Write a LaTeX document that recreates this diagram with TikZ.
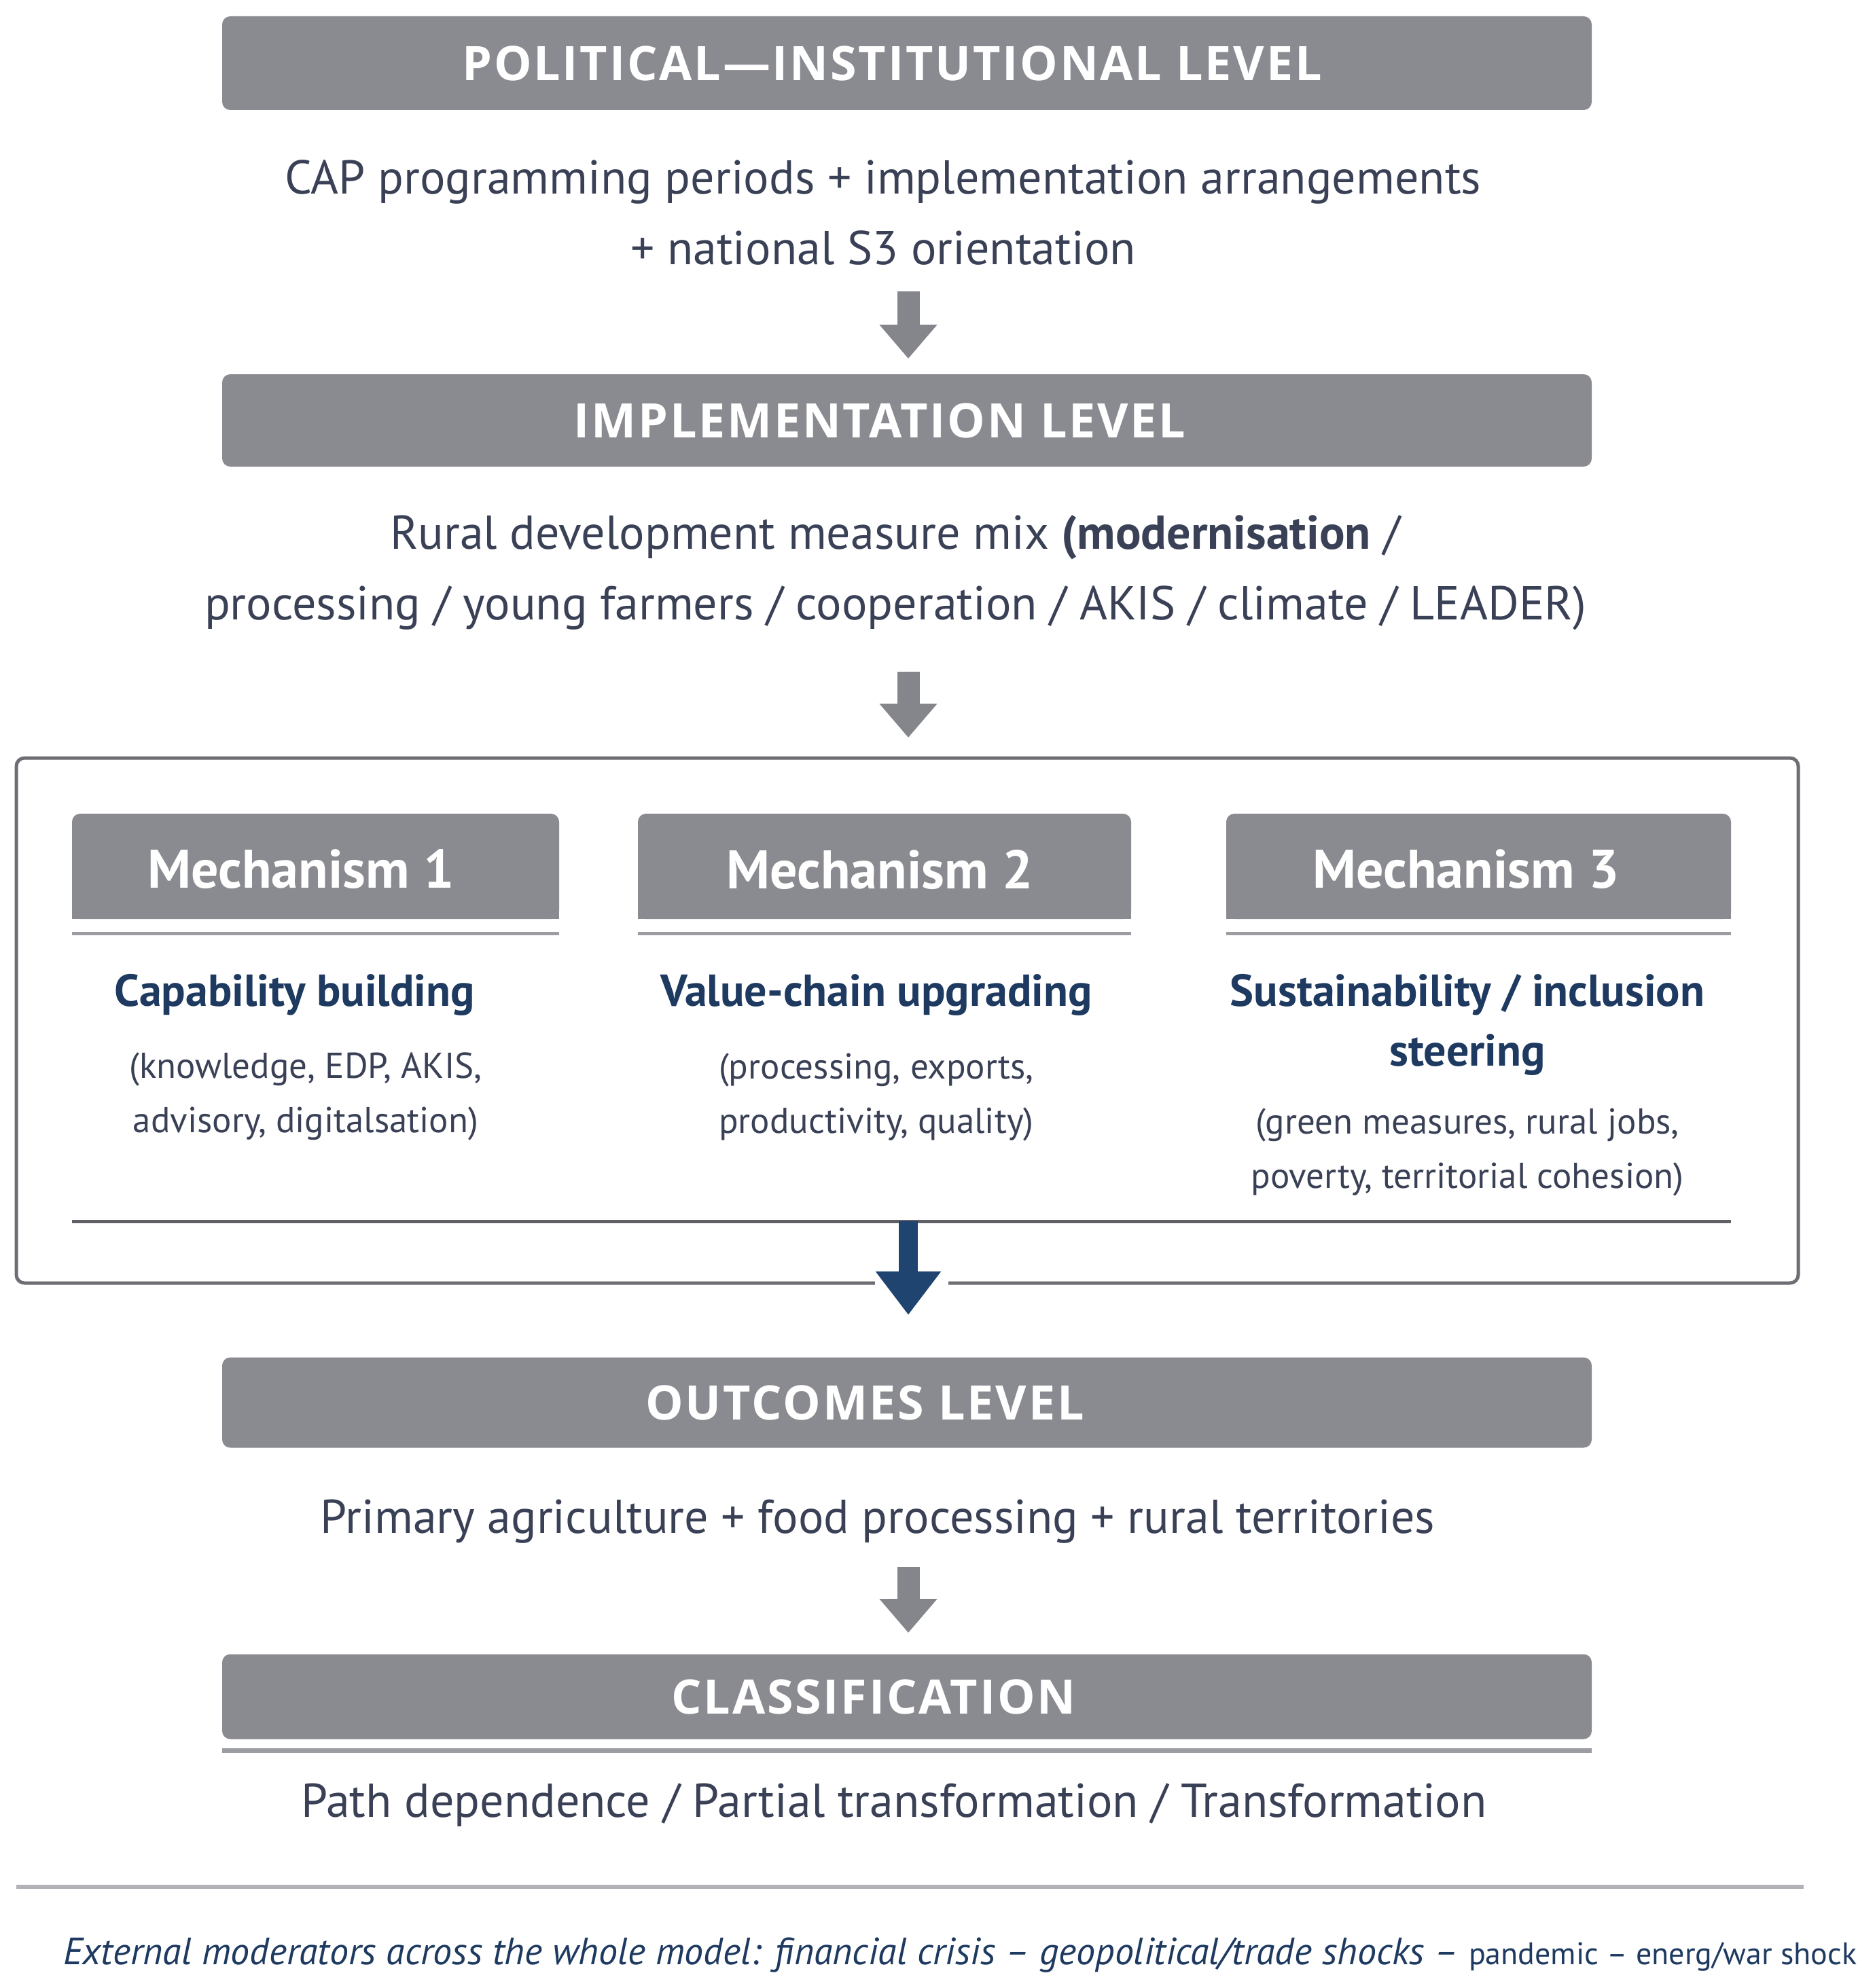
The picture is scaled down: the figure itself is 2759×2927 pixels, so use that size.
\documentclass[tikz,border=0pt]{standalone}
\usepackage{fontspec}
\setmainfont{PT Sans}
\newfontfamily\barfont[LetterSpace=4]{Open Sans}
\usetikzlibrary{arrows.meta}
\definecolor{barg}{HTML}{8A8B90}
\definecolor{txt}{HTML}{3A4156}
\definecolor{navy}{HTML}{1E3A60}
\definecolor{arrblue}{HTML}{1F4470}
\definecolor{boxline}{HTML}{6C6E73}
\definecolor{sepcol}{HTML}{5F6166}
\definecolor{mline}{HTML}{9C9DA2}
\definecolor{lightline}{HTML}{B2B3B8}
\definecolor{arrgray}{HTML}{85868B}
\begin{document}
\begin{tikzpicture}[x=1pt,y=-1pt,
  levelbar/.style={fill=barg, rounded corners=12pt, inner sep=0pt, minimum width=2016pt},
  bartext/.style={text=white, font=\barfont\fontsize{70}{80}\selectfont\bfseries, inner sep=0pt},
  bodytext/.style={text=txt, font=\fontsize{70}{104}\selectfont, align=center, inner sep=0pt},
  mechbox/.style={fill=barg, rounded corners=12pt, inner sep=0pt, minimum height=155pt},
  mlabel/.style={text=white, font=\fontsize{80}{90}\selectfont\bfseries, inner sep=0pt},
  mtitle/.style={text=navy, font=\fontsize{66}{88}\selectfont\bfseries, align=center, inner sep=0pt},
  msub/.style={text=txt, font=\fontsize{53}{80}\selectfont, align=center, inner sep=0pt},
  garrow/.style={draw=arrgray, line width=33pt, -{Triangle[length=50pt,width=82pt]}},
  barrow/.style={draw=arrblue, line width=28pt, -{Triangle[length=64pt,width=92pt]}},
  mechline/.style={draw=mline, line width=5pt},
]
\useasboundingbox (0,0) rectangle (2759,2927);
\fill[white] (0,0) rectangle (2759,2927);

% level 1
\node[levelbar, minimum height=138pt] (b1) at (1335,93) {};
\node[bartext] (b1t) at (1313,93) {POLITICAL—INSTITUTIONAL LEVEL};
\node[bodytext] (t1) at (1300,313) {CAP programming periods + implementation arrangements\\+ national S3 orientation};
\coordinate (a1s) at (1337,429);
\coordinate (a1e) at (1337,528);
\draw[garrow] (a1s) -- (a1e);

% level 2
\node[levelbar, minimum height=136pt] (b2) at (1335,619) {};
\node[bartext] (b2t) at (1295,619) {IMPLEMENTATION LEVEL};
\node[bodytext] (t2) at (1318,843) {Rural development measure mix \textbf{(modernisation} /\\processing / young farmers / cooperation / AKIS / climate / LEADER)};
\coordinate (a2s) at (1337,989);
\coordinate (a2e) at (1337,1086);
\draw[garrow] (a2s) -- (a2e);

% mechanisms box
\node[draw=boxline, line width=5pt, rounded corners=12pt, minimum width=2623pt, minimum height=773pt, inner sep=0pt] (mbox) at (1335.5,1502.5) {};

\fill[barg] (106,1280) rectangle (823,1353);
\node[mechbox, minimum width=717pt] (m1) at (464.5,1275.5) {};
\node[mlabel] (m1l) at (443,1280) {Mechanism 1};
\fill[barg] (939,1280) rectangle (1665,1353);
\node[mechbox, minimum width=726pt] (m2) at (1302,1275.5) {};
\node[mlabel] (m2l) at (1295,1280) {Mechanism 2};
\fill[barg] (1805,1280) rectangle (2548,1353);
\node[mechbox, minimum width=743pt] (m3) at (2176.5,1275.5) {};
\node[mlabel] (m3l) at (2158,1280) {Mechanism 3};

\draw[mechline] ([yshift=-21pt]m1.south west) -- ([yshift=-21pt]m1.south east);
\draw[mechline] ([yshift=-21pt]m2.south west) -- ([yshift=-21pt]m2.south east);
\draw[mechline] ([yshift=-21pt]m3.south west) -- ([yshift=-21pt]m3.south east);

\node[mtitle] (m1t) at (434,1465) {Capability building};
\node[msub] (m1s) at (450,1614) {(knowledge, EDP, AKIS,\\advisory, digitalsation)};
\node[mtitle] (m2t) at (1290,1465) {Value-chain upgrading};
\node[msub] (m2s) at (1290,1615) {(processing, exports,\\productivity, quality)};
\node[mtitle] (m3t) at (2160,1509) {Sustainability / inclusion\\steering};
\node[msub] (m3s) at (2160,1696) {(green measures, rural jobs,\\poverty, territorial cohesion)};

\coordinate (sepl) at (106,1798);
\coordinate (sepr) at (2548,1798);
\draw[draw=sepcol, line width=5pt] (sepl) -- (sepr);

\fill[white] (1288,1878) rectangle (1396,1900);
\coordinate (a3s) at (1337,1798);
\coordinate (a3e) at (1337,1936);
\draw[barrow] (a3s) -- (a3e);

% outcomes
\node[levelbar, minimum height=133pt] (b3) at (1335,2065) {};
\node[bartext] (b3t) at (1273,2065) {OUTCOMES LEVEL};
\node[bodytext] (t3) at (1292,2240) {Primary agriculture + food processing + rural territories};
\coordinate (a4s) at (1337,2307);
\coordinate (a4e) at (1337,2404);
\draw[garrow] (a4s) -- (a4e);

% classification
\node[levelbar, minimum height=125pt] (b4) at (1335,2498) {};
\node[bartext] (b4t) at (1286,2498) {CLASSIFICATION};
\draw[draw=mline, line width=7pt] ([yshift=-17pt]b4.south west) -- ([yshift=-17pt]b4.south east);
\node[bodytext] (t4) at (1316,2658) {Path dependence / Partial transformation / Transformation};

% footer
\coordinate (fl) at (24,2778);
\coordinate (fr) at (2655,2778);
\draw[draw=lightline, line width=6pt] (fl) -- (fr);
\node[anchor=base west, text=navy, inner sep=0pt, font=\fontsize{56}{60}\selectfont\itshape] (foot) at (93,2892) {External moderators across the whole model: financial crisis – geopolitical/trade shocks – {\upshape\fontsize{46}{50}\selectfont pandemic – energ/war shock}};
\end{tikzpicture}
\end{document}
